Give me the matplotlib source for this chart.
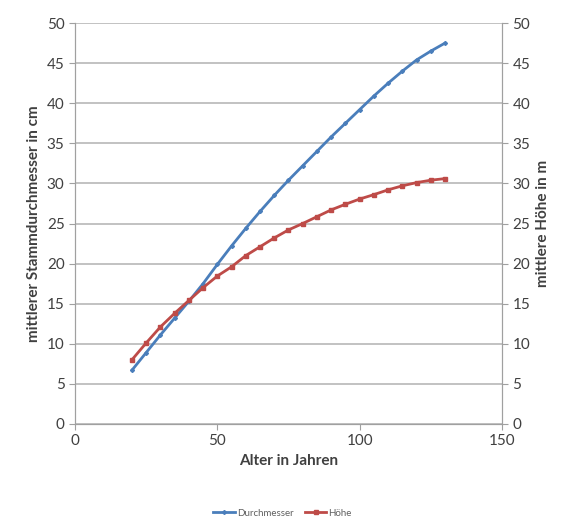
import matplotlib
matplotlib.use("Agg")
import matplotlib.pyplot as plt

plt.rcParams['font.family'] = ['Lato', 'DejaVu Sans']

alter = [20, 25, 30, 35, 40, 45, 50, 55, 60, 65, 70, 75, 80, 85, 90, 95,
         100, 105, 110, 115, 120, 125, 130]
durchmesser = [6.7, 8.9, 11.1, 13.2, 15.3, 17.5, 19.9, 22.2, 24.4, 26.5, 28.5,
               30.4, 32.2, 34.0, 35.8, 37.5, 39.2, 40.9, 42.5, 44.0, 45.4, 46.5, 47.5]
hoehe = [8.0, 10.1, 12.1, 13.8, 15.4, 17.0, 18.45, 19.6, 21.0, 22.1, 23.2,
         24.2, 25.0, 25.85, 26.7, 27.4, 28.05, 28.6, 29.2, 29.7, 30.1, 30.4, 30.6]

blue = '#4a7ebb'
red = '#be4b48'
grey = '#a0a0a0'
text_c = '#404040'

fig = plt.figure(figsize=(5.65, 5.29), dpi=100)
ax = fig.add_axes([0.1327, 0.1985, 0.7558, 0.758])
ax2 = ax.twinx()

l1, = ax.plot(alter, durchmesser, color=blue, lw=2, marker='D', ms=2,
              label='Durchmesser')
l2, = ax2.plot(alter, hoehe, color=red, lw=2, marker='s', ms=3.2,
               label='Höhe')

for a in (ax, ax2):
    a.set_ylim(0, 50)
    a.set_yticks(range(0, 51, 5))
    for s in a.spines.values():
        s.set_color(grey)
    a.tick_params(colors=grey, labelcolor=text_c, labelsize=11, length=4)
ax.set_xlim(0, 150)
ax.set_xticks([0, 50, 100, 150])
ax.spines['top'].set_visible(False)
ax2.spines['top'].set_visible(False)
ax.grid(axis='y', color='#bdbdbd', lw=1.3)
ax.set_axisbelow(True)

ax.set_xlabel('Alter in Jahren', fontsize=11, fontweight='bold', color=text_c)
ax.set_ylabel('mittlerer Stammdurchmesser in cm', fontsize=11, color=text_c,
              fontweight='bold')
ax2.set_ylabel('mittlere Höhe in m', fontsize=11, color=text_c, fontweight='bold')

fig.legend(handles=[l1, l2], loc='lower center', bbox_to_anchor=(0.5, 0.005),
           ncol=2, frameon=False, fontsize=7, labelcolor='#606060',
           handlelength=2.2, handletextpad=0.2, columnspacing=1.2)

fig.savefig('out.png', dpi=100)
